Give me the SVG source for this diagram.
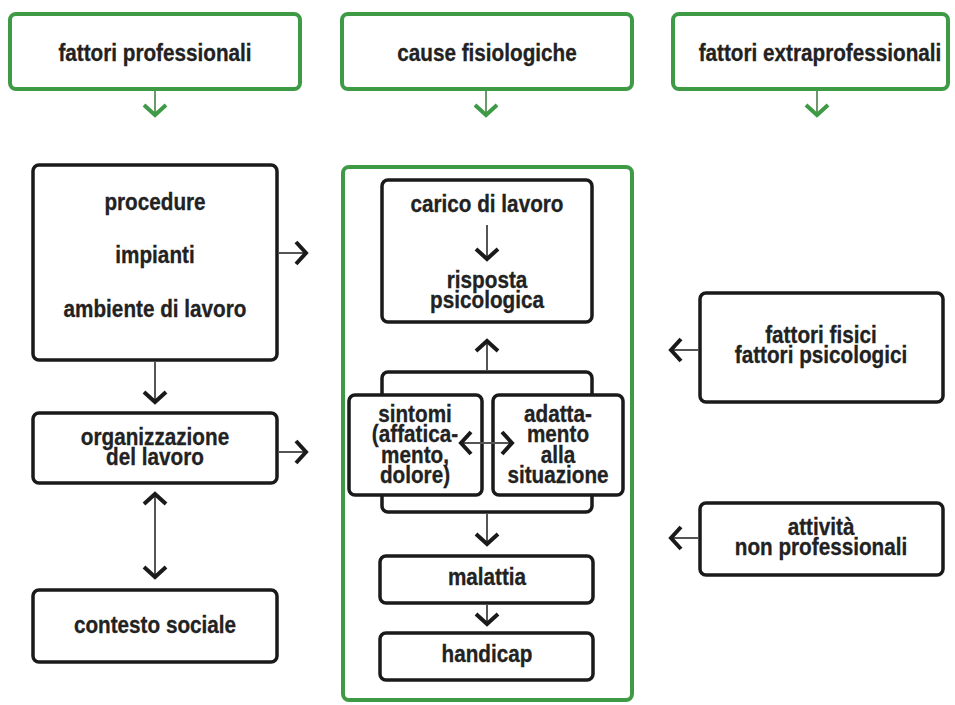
<svg xmlns="http://www.w3.org/2000/svg" width="955" height="705" viewBox="0 0 955 705">
<style>
  .g { fill: #fff; stroke: #3f9a45; stroke-width: 4; }
  .frame { fill: none; stroke: #3f9a45; stroke-width: 4; }
  .b { fill: #fff; stroke: #1a1a1a; stroke-width: 3.5; }
  .t { font-family: "Liberation Sans", Arial, sans-serif; font-weight: bold; font-size: 23px; fill: #222; stroke: #222; stroke-width: 0.3; text-anchor: middle; transform-box: fill-box; transform-origin: center; transform: scaleX(0.9); }
  .c { fill: none; stroke: #555; stroke-width: 2; }
  .cg { fill: none; stroke: #6a9a6a; stroke-width: 2; }
</style>
<defs>
  <marker id="ah" markerUnits="userSpaceOnUse" viewBox="-14 -14 18 28" refX="0" refY="0" markerWidth="18" markerHeight="28" orient="auto-start-reverse">
    <path d="M-11,-11 L-1,0 L-11,11" fill="none" stroke="#1a1a1a" stroke-width="4"/>
  </marker>
  <marker id="ahg" markerUnits="userSpaceOnUse" viewBox="-14 -14 18 28" refX="0" refY="0" markerWidth="18" markerHeight="28" orient="auto">
    <path d="M-11,-11 L-1,0 L-11,11" fill="none" stroke="#3f9a45" stroke-width="4"/>
  </marker>
</defs>
<rect width="955" height="705" fill="#fff"/>

<g id="fisio-frame">
  <rect class="frame" x="343" y="167" width="289" height="533" rx="6"/>
</g>

<g id="hdr-prof">
  <rect class="g" x="10" y="14" width="290" height="75" rx="6"/>
  <text class="t" x="155" y="61">fattori professionali</text>
</g>
<g id="hdr-fisio">
  <rect class="g" x="342" y="14" width="290" height="75" rx="6"/>
  <text class="t" x="487" y="61">cause fisiologiche</text>
</g>
<g id="hdr-extra">
  <rect class="g" x="673" y="14" width="275" height="75" rx="6"/>
  <text class="t" x="820" y="61">fattori extraprofessionali</text>
</g>

<g id="procedure">
  <rect class="b" x="33" y="165" width="244" height="195" rx="6"/>
  <text class="t" x="155" y="210">procedure</text>
  <text class="t" x="155" y="263">impianti</text>
  <text class="t" x="155" y="317">ambiente di lavoro</text>
</g>
<g id="organizzazione">
  <rect class="b" x="33" y="413" width="244" height="70" rx="6"/>
  <text class="t" x="155" y="445">organizzazione</text>
  <text class="t" x="155" y="465">del lavoro</text>
</g>
<g id="contesto">
  <rect class="b" x="33" y="590" width="244" height="72" rx="6"/>
  <text class="t" x="155" y="633">contesto sociale</text>
</g>

<g id="carico">
  <rect class="b" x="382" y="180" width="210" height="142" rx="6"/>
  <text class="t" x="487" y="212">carico di lavoro</text>
  <text class="t" x="487" y="288">risposta</text>
  <text class="t" x="487" y="308">psicologica</text>
</g>
<g id="bracket">
  <rect x="382" y="372" width="210" height="140" rx="6" fill="none" stroke="#1a1a1a" stroke-width="3.5"/>
</g>
<g id="sintomi">
  <rect class="b" x="349" y="395" width="133" height="100" rx="6"/>
  <text class="t" x="415" y="422">sintomi</text>
  <text class="t" x="415" y="442">(affatica-</text>
  <text class="t" x="415" y="463">mento,</text>
  <text class="t" x="415" y="483">dolore)</text>
</g>
<g id="adattamento">
  <rect class="b" x="493" y="395" width="130" height="100" rx="6"/>
  <text class="t" x="558" y="422">adatta-</text>
  <text class="t" x="558" y="442">mento</text>
  <text class="t" x="558" y="463">alla</text>
  <text class="t" x="558" y="483">situazione</text>
</g>
<g id="malattia">
  <rect class="b" x="380" y="556" width="213" height="47" rx="6"/>
  <text class="t" x="487" y="585">malattia</text>
</g>
<g id="handicap">
  <rect class="b" x="380" y="633" width="213" height="47" rx="6"/>
  <text class="t" x="487" y="662">handicap</text>
</g>

<g id="fisici">
  <rect class="b" x="700" y="293" width="243" height="109" rx="6"/>
  <text class="t" x="821" y="343">fattori fisici</text>
  <text class="t" x="821" y="363">fattori psicologici</text>
</g>
<g id="attivita">
  <rect class="b" x="700" y="503" width="243" height="72" rx="6"/>
  <text class="t" x="821" y="535">attività</text>
  <text class="t" x="821" y="555">non professionali</text>
</g>

<g id="connectors">
  <line class="cg" x1="155" y1="91" x2="155" y2="116" marker-end="url(#ahg)"/>
  <line class="cg" x1="486" y1="91" x2="486" y2="116" marker-end="url(#ahg)"/>
  <line class="cg" x1="817" y1="91" x2="817" y2="116" marker-end="url(#ahg)"/>
  <line class="c" x1="155" y1="362" x2="155" y2="403" marker-end="url(#ah)"/>
  <line class="c" x1="279" y1="253" x2="307" y2="253" marker-end="url(#ah)"/>
  <line class="c" x1="279" y1="452" x2="307" y2="452" marker-end="url(#ah)"/>
  <line class="c" x1="155" y1="493" x2="155" y2="578" marker-start="url(#ah)" marker-end="url(#ah)"/>
  <line class="c" x1="487" y1="225" x2="487" y2="260" marker-end="url(#ah)"/>
  <line class="c" x1="487" y1="370" x2="487" y2="340" marker-end="url(#ah)"/>
  <line class="c" x1="460" y1="443" x2="513" y2="443" marker-start="url(#ah)" marker-end="url(#ah)"/>
  <line class="c" x1="487" y1="514" x2="487" y2="545" marker-end="url(#ah)"/>
  <line class="c" x1="487" y1="605" x2="487" y2="625" marker-end="url(#ah)"/>
  <line class="c" x1="698" y1="350" x2="670" y2="350" marker-end="url(#ah)"/>
  <line class="c" x1="698" y1="538" x2="670" y2="538" marker-end="url(#ah)"/>
</g>
</svg>
